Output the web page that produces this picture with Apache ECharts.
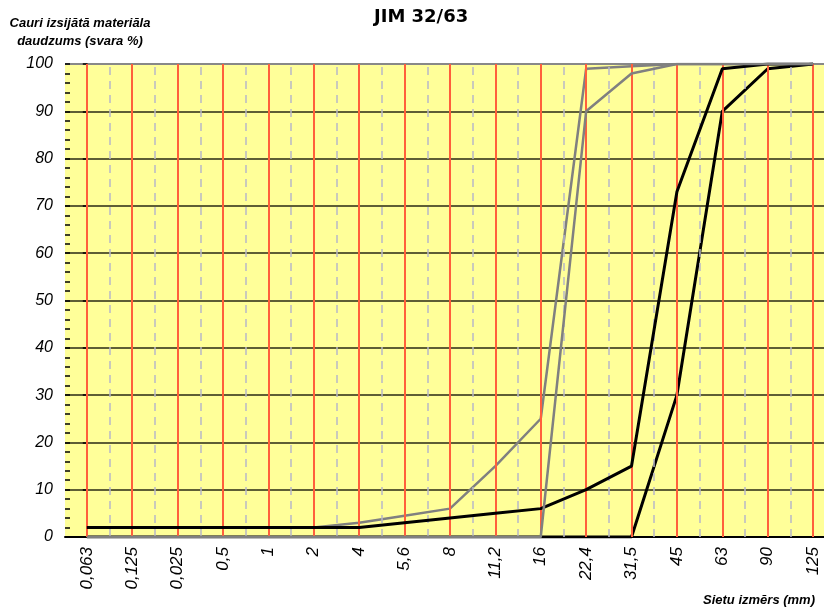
<!DOCTYPE html>
<html><head><meta charset="utf-8">
<script src="https://cdn.jsdelivr.net/npm/echarts@6/dist/echarts.min.js"></script>
<style>html,body{margin:0;padding:0;background:#fff}#c{width:824px;height:607px}</style>
</head><body><div id="c"></div>
<script>
// Data
const sieveSizes = ['0,063','0,125','0,025','0,5','1','2','4','5,6','8','11,2','16','22,4','31,5','45','63','90','125'];
const greyUpper  = [2,2,2,2,2,2,3,4.5,6,15,25,99,99.5,100,100,100,100];
const greyLower  = [0,0,0,0,0,0,0,0,0,0,0,90,98,100,100,100,100];
const blackUpper = [2,2,2,2,2,2,2,3,4,5,6,10,15,73,99,100,100];
const blackLower = [0,0,0,0,0,0,0,0,0,0,0,0,0,30,90,99,100];
const yTickValues = [0,10,20,30,40,50,60,70,80,90,100];
const titleText = 'JIM 32/63';
const yName = ['Cauri izsijātā materiāla', 'daudzums (svara %)'];
const xName = 'Sietu izmērs (mm)';

const idx = sieveSizes.map((_, i) => i);
const toPairs = arr => arr.map((v, i) => [i, v]);

const redLines = idx.map(i => ({ xAxis: i, lineStyle: { color: '#FF5F3C', width: 2, type: 'solid' } }));
const dashLines = idx.slice(0, -1).map(i => ({ xAxis: i + 0.5, lineStyle: { color: '#B8B8C8', width: 1.5, type: [8, 6] } }));

const splitColors = yTickValues.map(v => v === 100 ? '#888888' : 'rgba(40,40,20,0.75)');

const chart = echarts.init(document.getElementById('c'), null, { renderer: 'canvas' });
chart.setOption({
  animation: false,
  backgroundColor: '#ffffff',
  grid: { left: 65, right: 0, top: 64, bottom: 70, show: true, backgroundColor: '#FFFF99', borderWidth: 0 },
  graphic: [
    { type: 'text', left: 421 - 47, top: 8, style: { text: titleText, font: 'bold 18px "DejaVu Sans"', fill: '#000' } },
    { type: 'text', x: 80, y: 23, style: { text: yName[0], font: 'italic bold 13px "Liberation Sans"', fill: '#000', textAlign: 'center', textVerticalAlign: 'middle' } },
    { type: 'text', x: 80, y: 41, style: { text: yName[1], font: 'italic bold 13px "Liberation Sans"', fill: '#000', textAlign: 'center', textVerticalAlign: 'middle' } },
    { type: 'text', x: 815, y: 600, style: { text: xName, font: 'italic bold 13px "Liberation Sans"', fill: '#000', textAlign: 'right', textVerticalAlign: 'middle' } }
  ],
  xAxis: {
    type: 'value', min: -0.48, max: 16.24,
    axisLine: { show: true, lineStyle: { color: '#000', width: 2 } },
    axisTick: { show: false },
    splitLine: { show: false },
    axisLabel: {
      customValues: idx,
      rotate: 90, margin: 10,
      formatter: v => sieveSizes[Math.round(v)] || '',
      fontFamily: 'Liberation Sans', fontStyle: 'italic', fontSize: 17, color: '#000'
    }
  },
  yAxis: [
    {
      type: 'value', min: 0, max: 100, interval: 10, position: 'left',
      axisLine: { show: true, lineStyle: { color: '#000', width: 1.5 } },
      axisTick: { show: true, length: 4, lineStyle: { color: '#000', width: 1.5 } },
      axisLabel: { margin: 12, fontFamily: 'Liberation Sans', fontStyle: 'italic', fontSize: 16, color: '#000' },
      splitLine: { show: true, lineStyle: { color: splitColors, width: 2 } }
    },
    {
      type: 'value', min: 0, max: 100, interval: 10, position: 'left', offset: 0,
      axisLine: { show: false },
      axisTick: { show: true, inside: true, length: 5, lineStyle: { color: '#000', width: 1.5 } },
      minorTick: { show: true, splitNumber: 5, length: 5, lineStyle: { color: '#000', width: 1.5 } },
      axisLabel: { show: false },
      splitLine: { show: false }
    }
  ],
  series: [
    {
      type: 'line', data: [], z: 1, silent: true,
      markLine: { silent: true, symbol: 'none', label: { show: false }, data: dashLines.concat(redLines) }
    },
    { name: 'blackLower', type: 'line', data: toPairs(blackLower), z: 3, symbol: 'none', lineStyle: { color: '#000', width: 3 } },
    { name: 'greyUpper', type: 'line', data: toPairs(greyUpper), z: 4, symbol: 'none', lineStyle: { color: '#808080', width: 2.5 } },
    { name: 'blackUpper', type: 'line', data: toPairs(blackUpper), z: 5, symbol: 'none', lineStyle: { color: '#000', width: 3 } },
    { name: 'greyLower', type: 'line', data: toPairs(greyLower), z: 6, symbol: 'none', lineStyle: { color: '#808080', width: 2.5 } }
  ]
});
</script></body></html>
